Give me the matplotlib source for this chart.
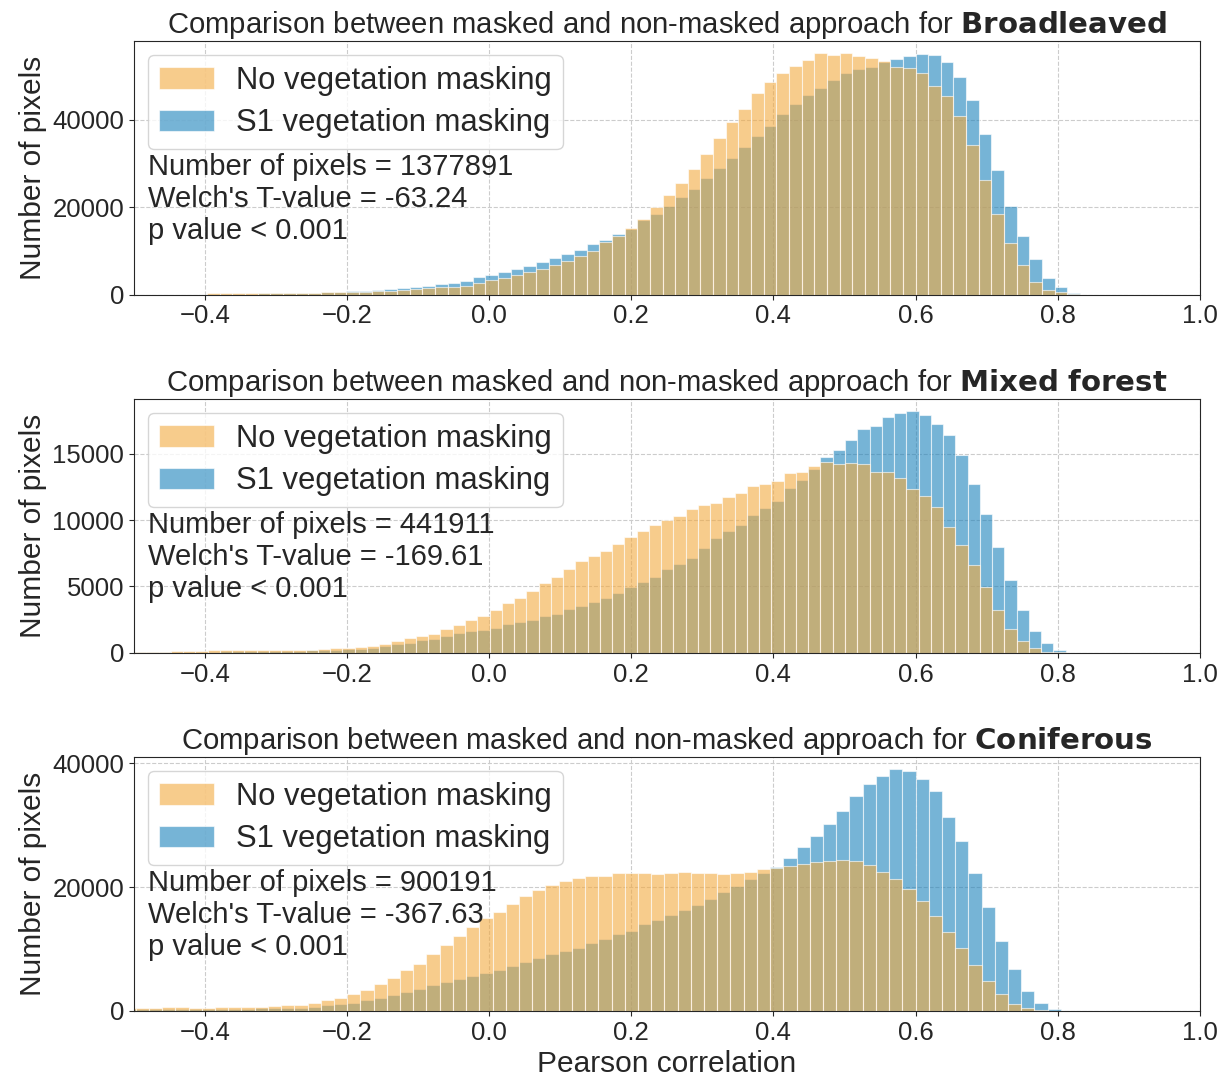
import numpy as np
import matplotlib
matplotlib.use("Agg")
import matplotlib.pyplot as plt
import seaborn as sns

# one panel per forest type
forest_types = ["Broadleaved", "Mixed forest", "Coniferous"]
n_pixels = [1377891, 441911, 900191]
welch_t = [-63.24, -169.61, -367.63]
y_ticks = [[0, 20000, 40000], [0, 5000, 10000, 15000], [0, 20000, 40000]]

# histogram bins (left edge of first bin, bin width)
bin_start = [-0.5036, -0.517, -0.516]
bin_width = [0.0178, 0.01725, 0.0186]

# pixel counts per bin
no_mask_broadleaved = [
    0, 0, 0, 0, 0, 40, 300, 320, 340, 360,
    380, 400, 420, 450, 480, 520, 570, 630, 690, 770,
    920, 1080, 1310, 1460, 1700, 1850, 2080, 2700, 3310, 3850,
    4470, 5240, 5930, 6700, 7780, 8860, 9940, 11950, 13330, 15180,
    17340, 20120, 22740, 25660, 28670, 32290, 35910, 39460, 42390, 46240,
    48710, 50630, 52410, 53640, 55260, 54870, 55260, 54640, 54100, 53410,
    52180, 51940, 50630, 47860, 45390, 40770, 34220, 26280, 18500, 11870,
    6700, 3010, 1160, 540, 50,
]
s1_mask_broadleaved = [
    0, 0, 0, 0, 0, 30, 200, 220, 240, 270,
    300, 330, 370, 420, 480, 550, 640, 760, 920, 1160,
    1310, 1460, 1770, 2000, 2390, 2700, 3080, 4160, 4620, 5160,
    5860, 6630, 7400, 8400, 9330, 10250, 11560, 12490, 13950, 15030,
    17110, 18570, 20350, 22350, 24280, 26740, 28900, 31370, 33830, 36220,
    38690, 41390, 43620, 45780, 47240, 49020, 50710, 51640, 52180, 53330,
    53950, 54640, 55100, 54870, 53180, 49710, 44550, 36680, 28440, 20350,
    13490, 8090, 3930, 1700, 310,
]

no_mask_mixed = [
    80, 90, 100, 100, 110, 120, 140, 180, 200, 220,
    250, 230, 200, 210, 230, 250, 300, 340, 380, 440,
    510, 680, 860, 1140, 1270, 1440, 1770, 2070, 2450, 2760,
    3210, 3720, 4150, 4660, 5240, 5720, 6300, 6880, 7260, 7690,
    8220, 8700, 9160, 9660, 10040, 10300, 10800, 11110, 11280, 11760,
    12020, 12550, 12700, 12950, 13510, 13590, 14090, 14350, 14220, 14270,
    14220, 13640, 13640, 13160, 12350, 11790, 10980, 9460, 8150, 6630,
    4960, 3210, 1820, 860, 380, 100, 25,
]
s1_mask_mixed = [
    40, 50, 50, 60, 60, 70, 80, 100, 110, 120,
    130, 140, 150, 160, 170, 190, 220, 250, 280, 320,
    380, 510, 680, 760, 940, 1060, 1270, 1520, 1650, 1750,
    1870, 2180, 2330, 2500, 2760, 2910, 3310, 3540, 3800, 4120,
    4500, 4930, 5310, 5720, 6300, 6680, 7160, 7890, 8650, 9210,
    9660, 10370, 10930, 11440, 12400, 13030, 13840, 14720, 15310, 16040,
    16820, 17080, 17760, 18090, 18190, 17940, 17200, 16420, 14900, 12700,
    10470, 7970, 5460, 3210, 1670, 730, 230,
]

no_mask_coniferous = [
    490, 490, 490, 600, 600, 490, 540, 650, 650, 710,
    710, 820, 980, 1030, 1250, 1790, 2120, 2770, 3420, 4400,
    5270, 6580, 7660, 9190, 10650, 12120, 13640, 15000, 15920, 17280,
    18530, 19510, 20380, 20920, 21410, 21740, 21790, 22230, 22280, 22280,
    22070, 22280, 22450, 22280, 22230, 22070, 22280, 22500, 22990, 23040,
    23420, 23700, 24080, 24240, 24400, 24240, 23590, 22500, 21360, 19730,
    17720, 15270, 12830, 10110, 7500, 4780, 2660, 1140, 490, 220,
    50,
]
s1_mask_coniferous = [
    270, 270, 270, 300, 300, 280, 300, 330, 350, 380,
    400, 430, 500, 550, 650, 900, 1100, 1350, 1700, 2100,
    2600, 3100, 3600, 4130, 4670, 5220, 5650, 6140, 6580, 7280,
    7830, 8480, 9190, 9730, 10220, 10920, 11630, 12500, 12990, 14020,
    14730, 15440, 16310, 17170, 18150, 19190, 20110, 21250, 22340, 23320,
    24780, 26410, 28320, 30270, 32340, 34730, 36630, 37990, 39020, 38750,
    37500, 35540, 31410, 27500, 22280, 16740, 11360, 6740, 3150, 1250,
    270,
]

no_mask = [no_mask_broadleaved, no_mask_mixed, no_mask_coniferous]
s1_mask = [s1_mask_broadleaved, s1_mask_mixed, s1_mask_coniferous]

orange = "#F3AA3F"
blue = "#1B82BB"

sns.set_style("ticks", {"axes.grid": True, "grid.linestyle": "--"})
plt.rcParams["font.family"] = ["Liberation Sans", "DejaVu Sans"]

fig, axes = plt.subplots(3, 1, figsize=(12.28, 10.81), dpi=100)
fig.subplots_adjust(left=0.109, right=0.977, top=0.962, bottom=0.0648, hspace=0.412)

for i, ax in enumerate(axes):
    edges = bin_start[i] + bin_width[i] * np.arange(len(no_mask[i]) + 1)
    centers = edges[:-1] + bin_width[i] / 2

    ax.hist(centers, bins=edges, weights=s1_mask[i], color=blue, alpha=0.6,
            edgecolor="white", linewidth=0.8, label="S1 vegetation masking")
    ax.hist(centers, bins=edges, weights=no_mask[i], color=orange, alpha=0.6,
            edgecolor="white", linewidth=0.8, label="No vegetation masking")

    handles, labels = ax.get_legend_handles_labels()
    ax.legend(handles[::-1], labels[::-1], loc="upper left", fontsize=22.3,
              handlelength=1.8, handletextpad=0.7, borderpad=0.35,
              labelspacing=0.4, borderaxespad=0.45)

    stats = (f"Number of pixels = {n_pixels[i]}\n"
             f"Welch's T-value = {welch_t[i]:.2f}\n"
             "p value < 0.001")
    ax.text(0.013, 0.56, stats, transform=ax.transAxes, va="top", ha="left",
            fontsize=21, linespacing=1.18)

    name = forest_types[i].replace(" ", r"\ ")
    ax.set_title("Comparison between masked and non-masked approach for $\\bf{" + name + "}$",
                 fontsize=21.1)

    ax.set_xlim(-0.5, 1.0)
    ax.set_xticks(np.arange(-0.4, 1.01, 0.2))
    ax.set_yticks(y_ticks[i])
    ax.set_ylabel("Number of pixels", fontsize=21.5)
    ax.tick_params(labelsize=18.5)

axes[-1].set_xlabel("Pearson correlation", fontsize=21.5)

fig.savefig("out.png", dpi=100)
